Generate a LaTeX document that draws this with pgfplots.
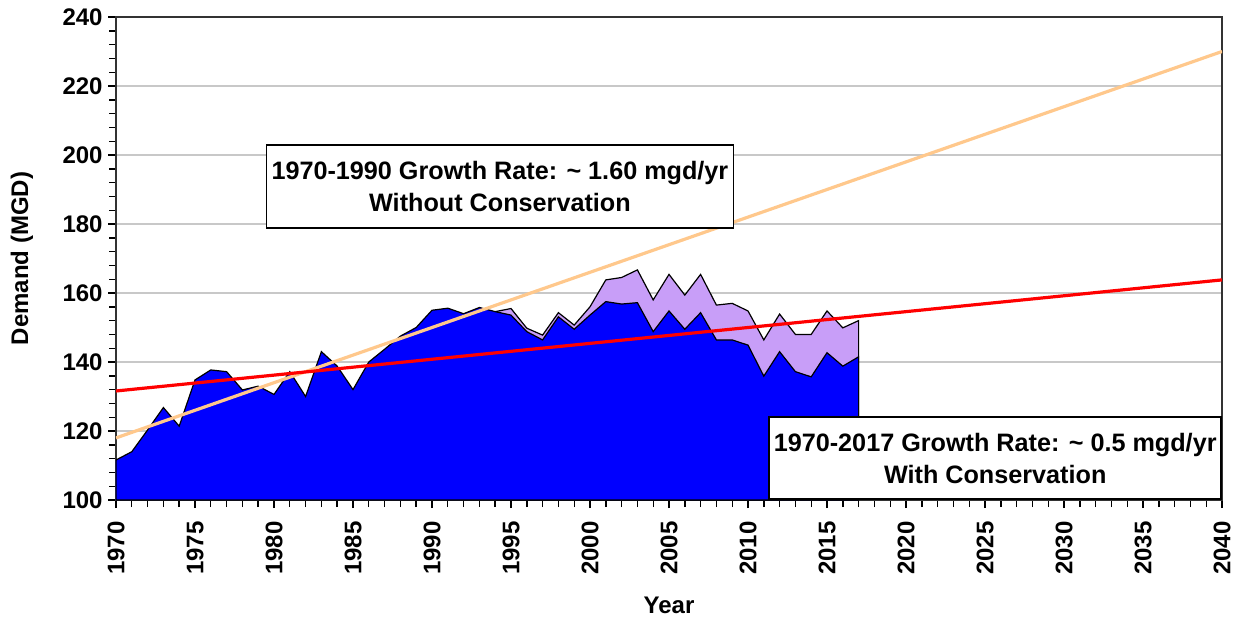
\documentclass[border=0pt]{standalone}
\usepackage{pgfplots}
\pgfplotsset{compat=1.18}
\usepackage{fontspec}
\setmainfont{Liberation Sans}
\definecolor{areablue}{RGB}{0,0,255}
\definecolor{lav}{RGB}{200,158,248}
\definecolor{peach}{RGB}{255,200,140}
\definecolor{gridgray}{RGB}{200,200,200}
\begin{document}
\begin{tikzpicture}
\useasboundingbox (-58pt,-59pt) rectangle (559.5pt,250pt);
\begin{axis}[
  scale only axis,
  width=553pt, height=241.5pt,
  xmin=1970, xmax=2040, ymin=100, ymax=240,
  xtick distance=5, minor x tick num=4,
  ytick distance=20, minor y tick num=4,
  tick align=outside,
  xtick pos=lower, ytick pos=left,
  major tick length=4pt, minor tick length=3.5pt,
  every tick/.style={black, line width=0.7pt},
  axis line style={line width=0.9pt, black!80},
  ymajorgrids,
  major grid style={draw=gridgray, line width=0.8pt},
  /pgf/number format/1000 sep={},
  /pgf/number format/assume math mode=true,
  ticklabel style={font=\bfseries\fontsize{12}{14}\selectfont},
  xticklabel shift=6.5pt,
  xticklabel style={rotate=90, anchor=east, inner sep=0pt},
  yticklabel style={anchor=east, inner sep=0pt, xshift=-2.5pt},
  every axis x label/.style={at={(axis description cs:0.5,0)}, yshift=-52.5pt, anchor=center, font=\bfseries\fontsize{12}{14}\selectfont},
  every axis y label/.style={at={(axis description cs:0,0.5)}, xshift=-47pt, rotate=90, anchor=center, font=\bfseries\fontsize{12}{14}\selectfont},
  xlabel={Year},
  ylabel={Demand (MGD)},
]
% total demand without conservation (upper, lavender)
\addplot[fill=lav, draw=black, line width=0.6pt] coordinates {
(1994,154.6) (1995,155.5) (1996,149.8) (1997,147.8) (1998,154.3) (1999,150.7)
(2000,156.0) (2001,163.8) (2002,164.5) (2003,166.7) (2004,158.0) (2005,165.4)
(2006,159.4) (2007,165.4) (2008,156.5) (2009,157.0) (2010,154.8) (2011,146.4)
(2012,153.9) (2013,148.0) (2014,148.0) (2015,154.8) (2016,149.9) (2017,152.0)
} \closedcycle;
% actual demand (blue)
\addplot[fill=areablue, draw=black, line width=0.6pt] coordinates {
(1970,111.6) (1971,114.0) (1972,120.3) (1973,126.8) (1974,121.4) (1975,134.8)
(1976,137.7) (1977,137.2) (1978,131.9) (1979,133.0) (1980,130.6) (1981,137.2)
(1982,130.0) (1983,143.0) (1984,138.8) (1985,132.0) (1986,140.0) (1987,143.7)
(1988,147.5) (1989,150.0) (1990,155.0) (1991,155.6) (1992,154.0) (1993,155.8)
(1994,154.6) (1995,153.6) (1996,148.8) (1997,146.4) (1998,153.1) (1999,149.5)
(2000,153.6) (2001,157.5) (2002,156.8) (2003,157.2) (2004,148.8) (2005,154.8)
(2006,149.5) (2007,154.3) (2008,146.4) (2009,146.4) (2010,144.9) (2011,135.9)
(2012,143.0) (2013,137.2) (2014,135.7) (2015,142.7) (2016,138.8) (2017,141.5)
} \closedcycle;
% trend lines
\addplot[peach, line width=1.6pt] coordinates {(1970,118) (2040,230)};
\addplot[red, line width=1.6pt] coordinates {(1970,131.6) (2040,163.8)};
% annotation boxes
\node[draw=black, fill=white, line width=0.8pt, minimum width=233.5pt, minimum height=41.5pt,
  align=center, font=\bfseries\fontsize{12.6}{16}\selectfont, inner sep=0pt]
  at (axis cs:1994.3,190.9)
  {1970-1990 Growth Rate: \textasciitilde\ 1.60 mgd/yr\\Without Conservation};
\node[draw=black, fill=white, line width=0.8pt, minimum width=226pt, minimum height=41pt,
  align=center, font=\bfseries\fontsize{12.6}{16}\selectfont, inner sep=0pt, anchor=south east]
  at (axis cs:2040,100)
  {1970-2017 Growth Rate: \textasciitilde\ 0.5 mgd/yr\\With Conservation};
\end{axis}
\end{tikzpicture}
\end{document}
